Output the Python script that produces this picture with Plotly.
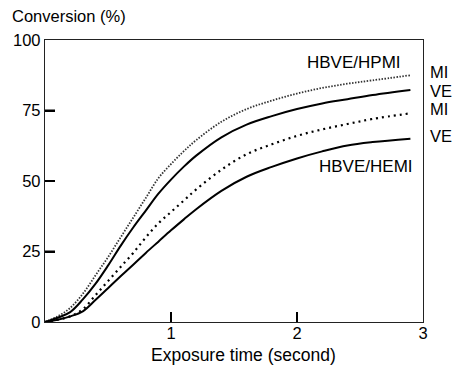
import plotly.graph_objects as go

# Exposure time (s)
time_s = [0, 0.1, 0.2, 0.3, 0.4, 0.5, 0.6, 0.7, 0.8, 0.9, 1.0, 1.1, 1.2, 1.4, 1.6, 1.8, 2.0, 2.2, 2.4, 2.6, 2.9]

# HBVE/HPMI system
hpmi_mi = [0, 2, 5, 10, 16.5, 23, 30, 37, 44, 51, 56, 60.5, 64.5, 71, 75.5, 78.5, 81, 83, 84.5, 85.7, 87.5]
hpmi_ve = [0, 1.5, 3.5, 8, 13.5, 20, 27, 33.5, 39.5, 45.5, 50.5, 55, 59, 65.5, 70, 73, 75.5, 77.5, 79, 80.5, 82.3]

# HBVE/HEMI system
hemi_mi = [0, 0.8, 2, 4.5, 9.5, 14.5, 19.5, 24.5, 30, 35, 39, 43, 47, 54, 59.5, 63, 66, 68.3, 70.2, 72, 74]
hemi_ve = [0, 0.8, 2, 3.8, 7.8, 12, 16.2, 20.3, 24.5, 28.5, 32.5, 36.3, 40, 46.5, 51.5, 55, 58, 60.5, 62.6, 63.8, 65]

x_ticks = [1, 2, 3]
y_ticks = [0, 25, 50, 75, 100]

FONT = "Liberation Sans, Arial, Helvetica, sans-serif"
TICK_LEN = 10

fig = go.Figure()
fig.add_trace(go.Scatter(x=time_s, y=hpmi_mi, mode="lines", line=dict(color="#333", width=1.8, dash="1.5px,1.5px", shape="spline")))
fig.add_trace(go.Scatter(x=time_s, y=hpmi_ve, mode="lines", line=dict(color="black", width=2, shape="spline")))
fig.add_trace(go.Scatter(x=time_s, y=hemi_mi, mode="lines", line=dict(color="black", width=2.2, dash="2px,4px", shape="spline")))
fig.add_trace(go.Scatter(x=time_s, y=hemi_ve, mode="lines", line=dict(color="black", width=2, shape="spline")))

axis_common = dict(showline=True, linecolor="#222", linewidth=1.4, mirror=True,
                   ticks="inside", ticklen=TICK_LEN, tickwidth=2, tickcolor="black",
                   showgrid=False, zeroline=False,
                   tickfont=dict(family=FONT, size=16.5, color="black"))

fig.update_layout(
    width=452, height=365,
    margin=dict(l=45, r=29, t=40, b=43),
    paper_bgcolor="white", plot_bgcolor="white",
    showlegend=False,
    font=dict(family=FONT, color="black"),
    xaxis=dict(range=[0, 3], tickmode="array", tickvals=x_ticks, ticktext=[str(v) for v in x_ticks],
               ticklabelstandoff=-4, **axis_common),
    yaxis=dict(range=[0, 100], tickmode="array", tickvals=y_ticks, ticktext=[str(v) for v in y_ticks], **axis_common),
)

# inward tick marks drawn from the tick lists (pixel-sized, anchored on the axes)
shapes = []
for v in x_ticks[:-1]:
    shapes.append(dict(type="line", xref="x", yref="paper", ysizemode="pixel", yanchor=0,
                       x0=v, x1=v, y0=0, y1=TICK_LEN, layer="above", line=dict(color="black", width=2)))
for v in y_ticks[1:-1]:
    shapes.append(dict(type="line", xref="paper", yref="y", xsizemode="pixel", xanchor=0,
                       y0=v, y1=v, x0=0, x1=TICK_LEN, layer="above", line=dict(color="black", width=2)))
fig.update_layout(shapes=shapes)

ann = []
ann.append(dict(text="Conversion (%)", xref="paper", yref="paper", x=-0.0926, y=1.085,
                xanchor="left", yanchor="middle", showarrow=False, font=dict(size=16.5)))
ann.append(dict(text="Exposure time (second)", xref="paper", yref="paper", x=0.524, y=-0.118,
                xanchor="center", yanchor="middle", showarrow=False, font=dict(size=17.5)))
ann.append(dict(text="HBVE/HPMI", xref="x", yref="y", x=2.452, y=92.2,
                xanchor="center", yanchor="middle", showarrow=False, font=dict(size=17)))
ann.append(dict(text="HBVE/HEMI", xref="x", yref="y", x=2.544, y=55.3,
                xanchor="center", yanchor="middle", showarrow=False, font=dict(size=17)))
for lab, yv in [("MI", 88.7), ("VE", 81.9), ("MI", 75.4), ("VE", 65.8)]:
    ann.append(dict(text=lab, xref="paper", yref="y", x=1.013, y=yv,
                    xanchor="left", yanchor="middle", showarrow=False, font=dict(size=16.5)))
fig.update_layout(annotations=ann)

fig.write_html("out.html")
